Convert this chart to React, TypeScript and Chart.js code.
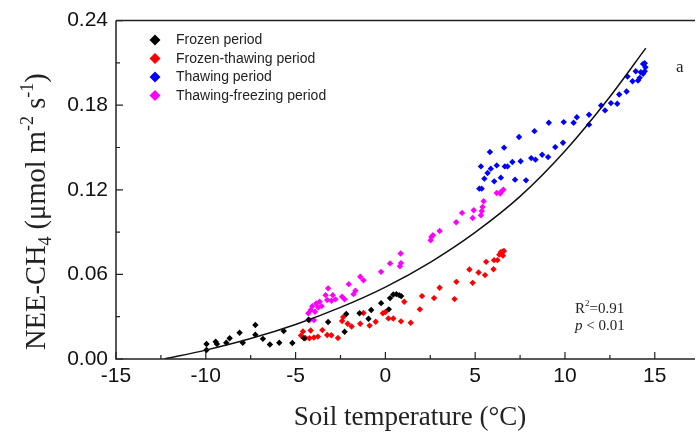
import React, { useEffect, useRef } from "react";
import { Chart, registerables } from "chart.js";

Chart.register(...registerables);

// ---- data (soil temperature °C, NEE-CH4 µmol m-2 s-1) ----
const tempFrozen = [-9.96, -9.96, -9.45, -9.38, -8.86, -8.67, -8.12, -7.94, -7.24, -7.24, -6.82, -6.43, -5.91, -5.66, -5.18, -4.53, -4.28, -3.19, -2.27, -2.18, -1.44, -0.94, -0.79, -0.24, 0.19, 0.26, 0.44, 0.61, 0.77, 0.88];
const fluxFrozen = [0.0106, 0.0064, 0.0122, 0.0106, 0.0115, 0.0147, 0.0186, 0.0115, 0.0241, 0.0172, 0.0143, 0.0103, 0.0115, 0.0198, 0.0113, 0.0147, 0.0278, 0.0262, 0.0193, 0.0319, 0.0324, 0.0285, 0.0347, 0.0396, 0.0352, 0.0432, 0.0457, 0.046, 0.0453, 0.0446];

const tempFrozenThawing = [-4.7, -4.59, -4.45, -4.23, -4.16, -3.98, -3.76, -3.51, -3.24, -3.01, -2.64, -2.41, -2.35, -2.1, -1.88, -1.4, -1.22, -0.88, -0.54, -0.14, 0.0, 0.17, 0.44, 0.87, 1.05, 1.41, 1.92, 2.04, 2.71, 3.02, 3.85, 3.95, 4.68, 4.86, 5.19, 5.55, 5.61, 6.02, 6.05, 6.24, 6.34, 6.43, 6.52, 6.6, 6.55];
const fluxFrozenThawing = [0.0166, 0.0195, 0.0149, 0.0147, 0.0202, 0.0152, 0.0159, 0.0205, 0.017, 0.0168, 0.0149, 0.0269, 0.0297, 0.025, 0.023, 0.025, 0.0326, 0.0237, 0.0264, 0.0324, 0.0333, 0.0288, 0.0287, 0.0267, 0.0406, 0.0257, 0.0352, 0.0446, 0.0432, 0.0505, 0.0425, 0.0547, 0.0635, 0.054, 0.0614, 0.0595, 0.0689, 0.0637, 0.0701, 0.0701, 0.074, 0.0758, 0.0761, 0.0766, 0.0733];

const tempThawing = [5.23, 5.36, 5.32, 5.51, 5.69, 5.82, 5.87, 6.06, 6.2, 6.43, 6.61, 6.65, 6.8, 7.07, 7.22, 7.44, 7.53, 7.83, 8.12, 8.3, 8.36, 8.73, 9.06, 9.1, 9.46, 9.89, 9.93, 10.48, 10.66, 11.34, 11.34, 12.01, 12.23, 12.56, 12.91, 13.02, 13.43, 13.48, 13.76, 13.94, 14.07, 14.16, 14.22, 14.35, 14.35, 14.44, 14.48, 14.44];
const fluxThawing = [0.1208, 0.1208, 0.1366, 0.1279, 0.1319, 0.1468, 0.135, 0.126, 0.1373, 0.1286, 0.1499, 0.1366, 0.1366, 0.1397, 0.1272, 0.1574, 0.1402, 0.1267, 0.1425, 0.1616, 0.1414, 0.1449, 0.1432, 0.1676, 0.1503, 0.1534, 0.168, 0.1676, 0.1715, 0.1732, 0.1662, 0.1798, 0.1763, 0.1815, 0.181, 0.1876, 0.1897, 0.2004, 0.197, 0.2041, 0.1975, 0.1994, 0.2034, 0.2023, 0.2093, 0.2098, 0.2069, 0.2041];

const tempThawFreeze = [-4.29, -4.22, -4.16, -4.07, -3.98, -3.92, -3.85, -3.74, -3.66, -3.55, -3.33, -3.24, -3.19, -3.0, -2.93, -2.78, -2.41, -2.27, -2.04, -1.77, -1.67, -1.4, -1.22, -0.24, 0.26, 0.81, 0.87, 0.85, 2.52, 2.56, 2.65, 3.02, 3.94, 4.27, 4.86, 4.92, 5.32, 5.37, 5.41, 5.47, 6.2, 6.39, 6.43, 6.57];
const fluxThawFreeze = [0.0324, 0.0276, 0.0347, 0.0375, 0.0276, 0.0335, 0.0394, 0.0366, 0.0406, 0.0375, 0.0453, 0.0418, 0.0501, 0.0413, 0.0453, 0.0423, 0.0441, 0.0423, 0.0531, 0.046, 0.0484, 0.0583, 0.0559, 0.0618, 0.0678, 0.0658, 0.068, 0.0748, 0.0842, 0.0866, 0.0878, 0.0908, 0.097, 0.1036, 0.1, 0.1055, 0.1019, 0.105, 0.1078, 0.1119, 0.1177, 0.1173, 0.1184, 0.1201];

// fitted curve
const fitTemp = [-12.3, -10, -7.5, -5, -2.5, 0, 2.5, 5, 7.5, 10, 12.5, 14.5];
const fitFlux = [0, 0.0063, 0.0145, 0.0245, 0.0366, 0.051, 0.0686, 0.0898, 0.1153, 0.1475, 0.186, 0.2205];

const seriesNames = ["Frozen period", "Frozen-thawing period", "Thawing period", "Thawing-freezing period"];
const seriesColors = ["#000000", "#ff0000", "#0000ff", "#ff00ff"];

const xMajorTicks = [-15, -10, -5, 0, 5, 10, 15];
const xMinorTicks = [-12.5, -7.5, -2.5, 2.5, 7.5, 12.5];
const yMajorTicks = [0, 0.06, 0.12, 0.18, 0.24];
const yMinorTicks = [0.03, 0.09, 0.15, 0.21];

const statR2 = "0.91";
const statP = "0.01";
const panelLabel = "a";

function pts(xs: number[], ys: number[]) {
  return xs.map((x, i) => ({ x, y: ys[i] }));
}

const SANS = "'Liberation Sans', Arial, sans-serif";
const SERIF = "'Liberation Serif', 'Times New Roman', serif";

const decorPlugin = {
  id: "decor",
  afterDraw(chart: any) {
    const { ctx, chartArea: a, scales } = chart;
    const xs = scales.x;
    const ys = scales.y;
    ctx.save();
    ctx.strokeStyle = "#222";
    ctx.lineWidth = 1.5;
    // frame: left, bottom, top
    ctx.beginPath();
    ctx.moveTo(a.left, a.top);
    ctx.lineTo(a.left, a.bottom);
    ctx.lineTo(a.right, a.bottom);
    ctx.moveTo(a.left, a.top);
    ctx.lineTo(a.right, a.top);
    ctx.stroke();
    // ticks (inward)
    ctx.lineWidth = 1.2;
    ctx.beginPath();
    xMajorTicks.forEach((v) => {
      const p = xs.getPixelForValue(v);
      ctx.moveTo(p, a.bottom);
      ctx.lineTo(p, a.bottom - 7);
    });
    xMinorTicks.forEach((v) => {
      const p = xs.getPixelForValue(v);
      ctx.moveTo(p, a.bottom);
      ctx.lineTo(p, a.bottom - 4);
    });
    yMajorTicks.forEach((v) => {
      const p = ys.getPixelForValue(v);
      ctx.moveTo(a.left, p);
      ctx.lineTo(a.left + 7, p);
    });
    yMinorTicks.forEach((v) => {
      const p = ys.getPixelForValue(v);
      ctx.moveTo(a.left, p);
      ctx.lineTo(a.left + 4, p);
    });
    ctx.stroke();

    // legend
    const ly0 = 40;
    const lstep = 18.5;
    seriesNames.forEach((name, i) => {
      const y = ly0 + i * lstep;
      const x = 155;
      const r = 5.5;
      ctx.fillStyle = seriesColors[i];
      ctx.beginPath();
      ctx.moveTo(x, y - r);
      ctx.lineTo(x + r, y);
      ctx.lineTo(x, y + r);
      ctx.lineTo(x - r, y);
      ctx.closePath();
      ctx.fill();
      ctx.fillStyle = "#222";
      ctx.font = `14px ${SANS}`;
      ctx.textAlign = "left";
      ctx.textBaseline = "middle";
      ctx.fillText(name, 176, y + 0.5);
    });

    // panel label
    ctx.fillStyle = "#222";
    ctx.font = `17px ${SERIF}`;
    ctx.textBaseline = "alphabetic";
    ctx.fillText(panelLabel, 676, 72);

    // stats
    ctx.font = `15px ${SERIF}`;
    let sx = 575;
    ctx.fillText("R", sx, 313);
    sx += ctx.measureText("R").width;
    ctx.font = `9px ${SERIF}`;
    ctx.fillText("2", sx, 306);
    sx += ctx.measureText("2").width;
    ctx.font = `15px ${SERIF}`;
    ctx.fillText("=" + statR2, sx, 313);
    ctx.font = `italic 15px ${SERIF}`;
    ctx.fillText("p", 575, 330);
    const pw = ctx.measureText("p").width;
    ctx.font = `15px ${SERIF}`;
    ctx.fillText(" < " + statP, 575 + pw, 330);

    // x title
    ctx.font = `27px ${SERIF}`;
    ctx.textAlign = "center";
    ctx.fillText("Soil temperature (°C)", 410, 425);

    // y title (rotated, with sub/superscripts)
    ctx.save();
    ctx.translate(45, 350);
    ctx.rotate(-Math.PI / 2);
    ctx.textAlign = "left";
    const big = `28.5px ${SERIF}`;
    const small = `18px ${SERIF}`;
    const parts: [string, string, number][] = [
      ["NEE-CH", big, 0],
      ["4", small, 6],
      [" (\u03bcmol m", big, 0],
      ["-2", small, -12],
      [" s", big, 0],
      ["-1", small, -12],
      [")", big, 0],
    ];
    let tx = 0;
    parts.forEach(([t, f, dy]) => {
      ctx.font = f;
      ctx.fillText(t, tx, dy);
      tx += ctx.measureText(t).width;
    });
    ctx.restore();

    ctx.restore();
  },
};

export default function App() {
  const ref = useRef<HTMLCanvasElement | null>(null);

  useEffect(() => {
    document.body.style.margin = "0";
    const canvas = ref.current;
    if (!canvas) return;
    const mk = (xs: number[], ys: number[], i: number) => ({
      type: "scatter" as const,
      label: seriesNames[i],
      data: pts(xs, ys),
      pointStyle: "rectRot",
      pointRadius: 3.2,
      pointBackgroundColor: seriesColors[i],
      pointBorderColor: seriesColors[i],
      pointBorderWidth: 0,
      showLine: false,
    });
    const chart = new Chart(canvas, {
      type: "scatter",
      data: {
        datasets: [
          {
            type: "line" as const,
            label: "fit",
            data: pts(fitTemp, fitFlux),
            borderColor: "#111",
            borderWidth: 1.5,
            pointRadius: 0,
            cubicInterpolationMode: "monotone",
            fill: false,
          } as any,
          mk(tempFrozen, fluxFrozen, 0),
          mk(tempFrozenThawing, fluxFrozenThawing, 1),
          mk(tempThawing, fluxThawing, 2),
          mk(tempThawFreeze, fluxThawFreeze, 3),
        ],
      },
      options: {
        animation: false,
        responsive: false,
        layout: { padding: { top: 20, left: 0, right: 0, bottom: 0 } },
        plugins: { legend: { display: false }, tooltip: { enabled: false } },
        scales: {
          x: {
            type: "linear",
            min: -15,
            max: 17.24,
            grid: { display: false, drawTicks: false },
            border: { display: false },
            afterBuildTicks: (s: any) => {
              s.ticks = xMajorTicks.map((v) => ({ value: v }));
            },
            afterFit: (s: any) => {
              s.height = 79;
            },
            ticks: {
              padding: 5,
              color: "#111",
              font: { family: SANS, size: 21 },
              maxRotation: 0,
              callback: (v: any) => String(v),
            },
          },
          y: {
            type: "linear",
            min: 0,
            max: 0.24,
            grid: { display: false, drawTicks: false },
            border: { display: false },
            afterBuildTicks: (s: any) => {
              s.ticks = yMajorTicks.map((v) => ({ value: v }));
            },
            afterFit: (s: any) => {
              s.width = 116;
            },
            ticks: {
              padding: 8,
              color: "#111",
              font: { family: SANS, size: 21 },
              callback: (v: any) => Number(v).toFixed(2),
            },
          },
        },
      },
      plugins: [decorPlugin],
    } as any);
    return () => chart.destroy();
  }, []);

  return (
    <div style={{ width: 699, height: 438, overflow: "hidden", background: "#fff" }}>
      <canvas ref={ref} width={699} height={438} style={{ display: "block" }} />
    </div>
  );
}
